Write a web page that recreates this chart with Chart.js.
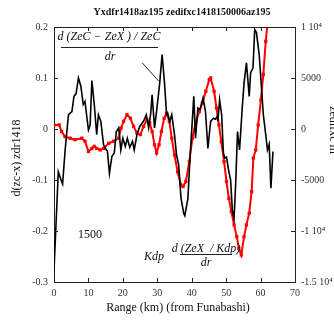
<!DOCTYPE html>
<html>
<head>
<meta charset="utf-8">
<script src="https://cdn.jsdelivr.net/npm/chart.js@4.4.1/dist/chart.umd.min.js"></script>
<style>
  body { margin: 0; background: #fff; }
  canvas { display: block; }
</style>
</head>
<body>
<canvas id="myChart" width="334" height="320"></canvas>
<script>
// black trace : d(ZeC - ZeX)/ZeC / dr  (left axis)
var blackKm = [0, 1.25, 2.2, 2.5, 3.2, 4.2, 5.2, 5.8, 6.4, 7.1, 7.8, 8.5, 9.0, 10.0, 10.5, 11.0, 11.7, 12.4, 12.9, 13.6, 14.4, 15.2, 15.5, 16.1, 16.8, 17.5, 18.1, 18.8, 19.4, 20.0, 20.7, 21.3, 22.0, 22.8, 23.3, 24.1, 24.9, 26.0, 26.8, 27.5, 28.1, 28.5, 29.2, 29.9, 30.7, 31.4, 32.1, 32.7, 33.0, 33.6, 34.2, 35.0, 35.6, 36.2, 36.9, 37.7, 38.0, 38.9, 39.5, 40.1, 40.6, 41.1, 41.8, 42.4, 43.3, 44.0, 44.7, 45.5, 46.3, 46.9, 47.4, 47.6, 48.1, 48.7, 49.2, 49.6, 50.1, 50.8, 51.3, 51.8, 52.3, 52.8, 53.3, 53.9, 54.7, 55.2, 55.9, 56.7, 57.1, 57.8, 58.3, 58.8, 59.6, 60.1, 60.8, 61.5, 62.0, 62.5, 63.0, 63.6];
var blackVal = [-0.277, -0.084, -0.103, -0.108, -0.044, 0.028, 0.034, 0.064, 0.069, 0.100, 0.084, 0.048, 0.054, -0.002, 0.008, 0.095, 0.048, -0.011, 0.028, 0.015, -0.031, -0.041, -0.043, -0.087, -0.054, -0.047, -0.005, 0.002, -0.041, -0.018, -0.034, -0.018, -0.036, -0.024, -0.041, -0.011, 0.005, 0.015, 0.028, 0.002, 0.031, 0.067, 0.002, 0.041, 0.090, 0.146, 0.090, 0.028, 0.031, 0.015, 0.028, -0.011, -0.051, -0.070, -0.136, -0.166, -0.170, -0.136, -0.057, 0.008, 0.064, -0.018, 0.041, 0.038, 0.061, 0.034, -0.038, 0.015, 0.021, 0.019, 0.025, 0.015, 0.057, 0.028, -0.047, -0.057, -0.055, -0.084, -0.100, -0.159, -0.175, -0.103, -0.005, -0.041, 0.044, 0.090, 0.130, 0.064, 0.110, 0.120, 0.195, 0.189, 0.146, 0.097, 0.028, -0.011, -0.041, -0.030, -0.116, -0.044];

// red trace : Kdp d(ZeX/Kdp)/dr  (right axis)
var redKm = [0, 1.5, 2.2, 3.2, 4.7, 6.1, 8.1, 9.0, 10.0, 11.0, 11.7, 12.4, 13.4, 14.4, 15.9, 17.3, 18.8, 19.5, 20.2, 21.2, 22.2, 23.1, 24.1, 25.1, 26.0, 27.0, 27.8, 28.5, 29.2, 29.8, 30.5, 31.2, 32.0, 32.7, 33.5, 34.2, 35.0, 35.9, 36.9, 37.5, 38.3, 39.3, 40.2, 41.2, 42.2, 43.1, 44.1, 45.1, 45.5, 46.5, 47.2, 47.9, 48.6, 49.4, 50.1, 50.8, 51.5, 52.3, 53.1, 53.7, 54.4, 55.2, 55.9, 56.7, 57.4, 57.9, 58.6, 59.3, 60.1, 60.8, 61.5, 62.0, 62.4];
var redVal = [400, 400, -250, -750, -900, -1050, -900, -1200, -2200, -1900, -1700, -1900, -2050, -1900, -1400, -1200, -900, 100, 750, 1400, 1050, 250, -400, -550, 250, 900, 600, -250, -1550, -2350, -1550, -250, 1050, 1550, 750, -900, -2550, -4200, -5500, -5650, -5150, -3200, -900, 750, 1700, 2550, 3700, 4850, 5000, 3700, 2050, 400, -1250, -3200, -5150, -6800, -8100, -9400, -10550, -11700, -12350, -10550, -9400, -8250, -6150, -2850, -2050, 400, 2850, 5350, 8600, 10250, 12000];

var xTicks = [0, 10, 20, 30, 40, 50, 60, 70];
var leftTicks = [0.2, 0.1, 0, -0.1, -0.2, -0.3];
var rightTicks = [10000, 5000, 0, -5000, -10000, -15000];
var rightLabels = {"10000": "1 10\u2074", "5000": "5000", "0": "0", "-5000": "-5000", "-10000": "-1 10\u2074", "-15000": "-1.5 10\u2074"};

var SERIF = "'Liberation Serif', 'DejaVu Serif', serif";
var AXC = "#222";

function toPts(xs, ys) {
  var out = [];
  for (var i = 0; i < xs.length; i++) out.push({x: xs[i], y: ys[i]});
  return out;
}

var extras = {
  id: "extras",
  afterDraw: function(chart) {
    var ctx = chart.ctx;
    var a = chart.chartArea;
    var sx = chart.scales.x, sy = chart.scales.y, sy1 = chart.scales.y1;
    ctx.save();
    // top border
    ctx.strokeStyle = AXC;
    ctx.lineWidth = 1;
    ctx.beginPath();
    ctx.moveTo(a.left, a.top + 0.5);
    ctx.lineTo(a.right, a.top + 0.5);
    ctx.stroke();
    // inward ticks
    ctx.beginPath();
    xTicks.forEach(function(t) {
      var px = Math.round(sx.getPixelForValue(t)) + 0.5;
      ctx.moveTo(px, a.bottom); ctx.lineTo(px, a.bottom - 4);
      ctx.moveTo(px, a.top); ctx.lineTo(px, a.top + 4);
    });
    leftTicks.forEach(function(t) {
      var py = Math.round(sy.getPixelForValue(t)) + 0.5;
      ctx.moveTo(a.left, py); ctx.lineTo(a.left + 4, py);
    });
    rightTicks.forEach(function(t) {
      var py = Math.round(sy1.getPixelForValue(t)) + 0.5;
      ctx.moveTo(a.right, py); ctx.lineTo(a.right - 4, py);
    });
    ctx.stroke();

    // leader line to the black peak
    ctx.beginPath();
    ctx.moveTo(sx.getPixelForValue(25.6), sy.getPixelForValue(0.130));
    ctx.lineTo(sx.getPixelForValue(30.4), sy.getPixelForValue(0.094));
    ctx.stroke();

    ctx.fillStyle = "#111";
    ctx.textAlign = "center";
    ctx.textBaseline = "middle";

    // title
    ctx.font = "bold 10px " + SERIF;
    ctx.fillText("Yxdfr1418az195 zedifxc1418150006az195", 182, 12);

    // axis titles
    ctx.font = "12px " + SERIF;
    ctx.fillText("Range (km) (from Funabashi)", 178, 308);
    ctx.save();
    ctx.translate(17, 158);
    ctx.rotate(-Math.PI / 2);
    ctx.fillText("d(zc-x) zdr1418", 0, 0);
    ctx.restore();
    ctx.save();
    ctx.translate(333.5, 130);
    ctx.rotate(Math.PI / 2);
    ctx.fillText("zedifxc m", 0, 0);
    ctx.restore();

    // annotations
    ctx.font = "italic 12px " + SERIF;
    ctx.fillText("d (ZeC \u2212 ZeX ) / ZeC", 109, 37);
    ctx.fillText("dr", 110, 57);
    ctx.beginPath();
    ctx.moveTo(61, 47.5); ctx.lineTo(158, 47.5);
    ctx.stroke();

    ctx.fillText("Kdp", 154, 257);
    ctx.fillText("d (ZeX  / Kdp)", 206, 249);
    ctx.fillText("dr", 206, 263);
    ctx.beginPath();
    ctx.moveTo(180, 254.5); ctx.lineTo(232, 254.5);
    ctx.stroke();

    ctx.font = "12px " + SERIF;
    ctx.fillText("1500", 90, 235);
    ctx.restore();
  }
};

new Chart("myChart", {
  type: "line",
  data: {
    datasets: [{
      data: toPts(blackKm, blackVal),
      yAxisID: "y",
      borderColor: "#000",
      borderWidth: 1.6,
      pointRadius: 0,
      tension: 0
    }, {
      data: toPts(redKm, redVal),
      yAxisID: "y1",
      borderColor: "#ff0000",
      backgroundColor: "#ff0000",
      borderWidth: 2,
      pointRadius: 0.9,
      pointStyle: "rect",
      tension: 0
    }]
  },
  options: {
    responsive: false,
    devicePixelRatio: 1,
    animation: false,
    layout: { padding: { top: 27, left: 0, right: 0, bottom: 0 } },
    plugins: { legend: { display: false }, tooltip: { enabled: false }, title: { display: false } },
    scales: {
      x: {
        type: "linear", min: 0, max: 70,
        afterFit: function(s) { s.height = 38; },
        grid: { display: false, drawTicks: false },
        border: { display: true, color: AXC, width: 1 },
        ticks: {
          stepSize: 10, padding: 5, color: "#333", maxRotation: 0,
          font: { family: SERIF, size: 10 }
        }
      },
      y: {
        position: "left", min: -0.3, max: 0.2,
        afterFit: function(s) { s.width = 54; },
        grid: { display: false, drawTicks: false },
        border: { display: true, color: AXC, width: 1 },
        ticks: {
          stepSize: 0.1, padding: 6, color: "#333",
          font: { family: SERIF, size: 10 },
          callback: function(v) { return String(Math.round(v * 10) / 10); }
        }
      },
      y1: {
        position: "right", min: -15000, max: 10000,
        afterFit: function(s) { s.width = 39; },
        grid: { display: false, drawTicks: false },
        border: { display: true, color: AXC, width: 1 },
        ticks: {
          stepSize: 5000, padding: 6, color: "#333",
          font: { family: SERIF, size: 10 },
          callback: function(v) { return rightLabels[String(v)]; }
        }
      }
    }
  },
  plugins: [extras]
});
</script>
</body>
</html>
